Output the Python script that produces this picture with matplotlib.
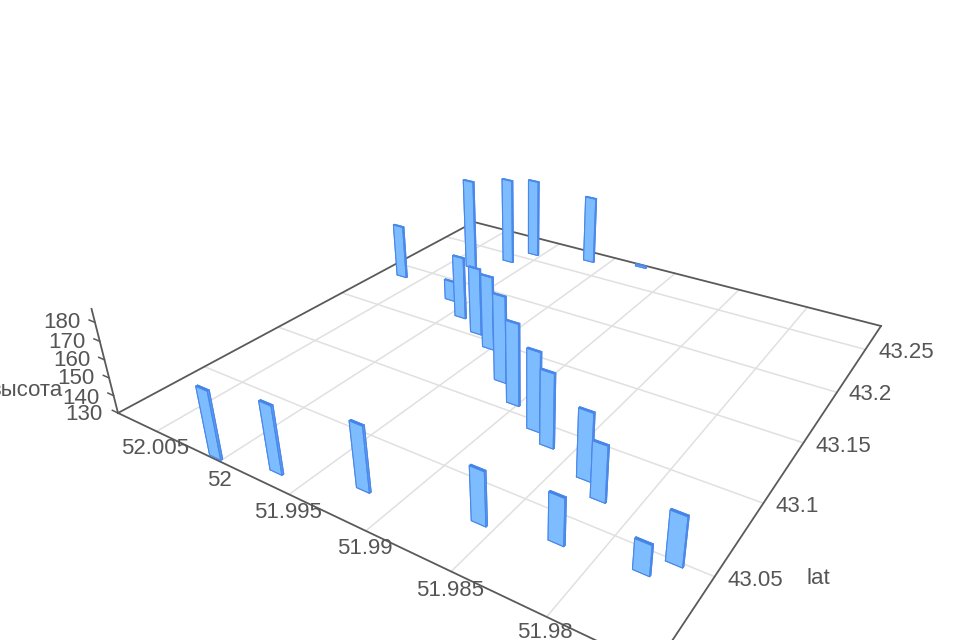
import numpy as np
import matplotlib
matplotlib.use("Agg")
import matplotlib.pyplot as plt

plt.rcParams['font.family'] = ['Liberation Sans', 'DejaVu Sans']

# Data
lon = [52.0005, 51.9969, 51.9922, 51.9859, 51.9821, 51.9779, 51.9769, 51.9834, 51.9820, 51.9879, 51.9865, 51.9903,
       51.9923, 51.9952, 51.9970, 51.9992, 52.0013, 52.0033, 52.0016, 52.0007, 51.9965, 52.0066, 51.9927]
lat = [43.0013, 43.0080, 43.0188, 43.0276, 43.0344, 43.0376, 43.0483, 43.0743, 43.0656, 43.0932, 43.0859, 43.1061,
       43.1198, 43.1435, 43.1533, 43.1637, 43.1775, 43.2204, 43.2403, 43.2580, 43.2682, 43.1870, 43.2781]
height = [166.9, 166.5, 164.9, 158.2, 154.4, 145.6, 155.5, 166.4, 159.7, 173.9, 170.6, 176.2,
          179.7, 173.7, 170.4, 168.2, 142.7, 188.4, 185.8, 181.1, 173.9, 164.1, 131.1]
lon_ticks = [52.005, 52.0, 51.995, 51.99, 51.985, 51.98]
lon_labels = ['52.005', '52', '51.995', '51.99', '51.985', '51.98']
lat_ticks = [43.05, 43.1, 43.15, 43.2, 43.25]
lat_labels = ['43.05', '43.1', '43.15', '43.2', '43.25']
z_ticks = [130, 140, 150, 160, 170, 180]
z_labels = ['130', '140', '150', '160', '170', '180']

LON0, LON1 = 51.975, 52.0083
LAT0, LAT1 = 43.0, 43.281
Z0, Z1 = 130, 187


def homography(src, dst):
    A = []
    for (u, v), (x, y) in zip(src, dst):
        A.append([u, v, 1, 0, 0, 0, -x*u, -x*v, -x])
        A.append([0, 0, 0, u, v, 1, -y*u, -y*v, -y])
    return np.linalg.svd(np.array(A, float))[2][-1].reshape(3, 3)


# Camera: ground-plane corners and the vertical vanishing point, in image pixels
H = homography([(1, 0), (1, 1), (0, 1), (0, 0)], [(118, 413), (474, 222), (881, 326), (654, 668)])
H = H / (H[2] @ np.array([1, 0, 1]))
VP = np.array([527, 2022, 1.0])
k = -0.001066
Du, Dv = LON1 - LON0, LAT1 - LAT0
col_u, col_v, col_z = H[:, 0] / Du, H[:, 1] / Dv, k * VP
const = H[:, 2] - LON0 * col_u - LAT0 * col_v - Z0 * col_z
P = np.column_stack([col_u, col_v, col_z, const])

fig = plt.figure(figsize=(9.6, 6.4), dpi=100)
ax = fig.add_axes([0, 0, 1, 1], projection='3d')
ax.apply_aspect = lambda *a, **kw: None
ax.computed_zorder = False
ax.set_axis_off()
F = np.array([[1, 0, 0], [0, -1, 640], [0, 0, 1.0]])


def get_proj():
    P2 = ax.transData.inverted().get_matrix() @ F @ P
    return np.vstack([P2[0], P2[1], [0, 0, 0, -1], P2[2]])


ax.get_proj = get_proj

GRID, AXC, TXT = '#e0e0e0', '#5a5a5a', '#555555'
for v in lon_ticks:
    ax.plot([v, v], [LAT0, LAT1], [Z0, Z0], color=GRID, lw=1.1, zorder=1)
for v in lat_ticks:
    ax.plot([LON0, LON1], [v, v], [Z0, Z0], color=GRID, lw=1.1, zorder=1)
for a, b in [((LON0, LAT0), (LON1, LAT0)), ((LON1, LAT0), (LON1, LAT1)),
             ((LON1, LAT1), (LON0, LAT1)), ((LON0, LAT1), (LON0, LAT0))]:
    ax.plot([a[0], b[0]], [a[1], b[1]], [Z0, Z0], color=AXC, lw=1.3, zorder=2)
ax.plot([LON1, LON1], [LAT0, LAT0], [Z0, Z1], color=AXC, lw=1.3, zorder=2)
for v in z_ticks:
    ax.plot([LON1, LON1 + 0.0005], [LAT0, LAT0], [v, v], color=AXC, lw=1.1, zorder=2)

DL, DA = 0.00085, 0.001
FRONT, TOPC, SIDE = '#7cbcff', '#3f7fe6', '#5c9cf2'
colors = []
for _ in lon:
    colors += [FRONT, TOPC, FRONT, FRONT, SIDE, SIDE]
ax.bar3d(np.array(lon) - DL / 2 - 0.00005, np.array(lat) - DA / 2, np.full(len(lon), Z0), DL, DA,
         np.array(height) - Z0, color=colors, shade=False, edgecolor='#4a88ea', linewidth=0.8, zorder=3)
ax.set_xlim(LON0, LON1)
ax.set_ylim(LAT0, LAT1)
ax.set_zlim(Z0, Z1)


def label(x, y, s, ha='center'):
    fig.text(x / 960, 1 - y / 640, s, ha=ha, va='center', fontsize=16, color=TXT)


lon_pos = [(155, 449), (219, 480), (288, 512), (365, 549), (450, 590), (545, 633)]
lat_pos = [(755, 580), (797, 507), (843, 446), (870, 395), (906, 352)]
z_pos = [(84, 415), (81, 398), (76, 379), (72, 361), (67, 343), (62, 323)]
for (x, y), v in zip(lon_pos, lon_labels):
    label(x, y, v)
for (x, y), v in zip(lat_pos, lat_labels):
    label(x, y, v)
for (x, y), v in zip(z_pos, z_labels):
    label(x, y, v)
label(818, 578, 'lat')
label(63, 390, 'высота', ha='right')
fig.savefig('out.png', dpi=100)
